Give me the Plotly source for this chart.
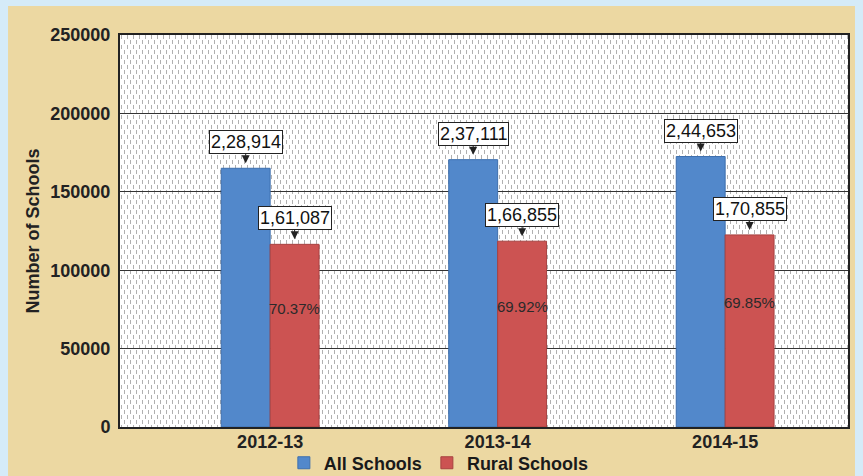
import base64
import plotly.graph_objects as go

# ---- data ----
years = ["2012-13", "2013-14", "2014-15"]
all_schools_bar = [165000, 170500, 172500]      # bar heights as drawn
rural_schools_bar = [116500, 118500, 122500]    # bar heights as drawn
all_labels = ["2,28,914", "2,37,111", "2,44,653"]
rural_labels = ["1,61,087", "1,66,855", "1,70,855"]
rural_share = ["70.37%", "69.92%", "69.85%"]
y_ticks = [0, 50000, 100000, 150000, 200000, 250000]

BLUE = "#5288cb"
RED = "#cc5352"
FONT = "Liberation Sans, Arial, sans-serif"
PARCH = "#ecd8a2"
SKY = "#d5ebf8"

fig = go.Figure()
fig.add_trace(go.Bar(x=years, y=all_schools_bar, name="All Schools",
                     marker=dict(color=BLUE, line=dict(color="#3d6fae", width=1))))
fig.add_trace(go.Bar(x=years, y=rural_schools_bar, name="Rural Schools",
                     marker=dict(color=RED, line=dict(color="#a84240", width=1))))

# dashed pattern background for plot area
svg = ('<svg xmlns="http://www.w3.org/2000/svg" width="728" height="392">'
       '<defs><pattern id="p" width="6" height="10" patternUnits="userSpaceOnUse">'
       '<rect width="6" height="10" fill="#ffffff"/>'
       '<rect x="1" y="0" width="1" height="4" fill="#b0b0b0"/>'
       '<rect x="4" y="5" width="1" height="4" fill="#b0b0b0"/>'
       '</pattern></defs><rect width="728" height="392" fill="url(#p)"/></svg>')
uri = "data:image/svg+xml;base64," + base64.b64encode(svg.encode()).decode()
fig.add_layout_image(dict(source=uri, xref="paper", yref="paper", x=0, y=1,
                          sizex=1, sizey=1, sizing="stretch", layer="below",
                          xanchor="left", yanchor="top"))

# light-blue outer strips around the parchment frame
for x0, x1, y0, y1 in ((-0.2, -0.1538, -0.2, 1.2), (-0.2, 1.1, 1.074, 1.2),
                       (1.0096, 1.1, -0.2, 1.2)):
    fig.add_shape(type="rect", xref="paper", yref="paper", x0=x0, x1=x1, y0=y0, y1=y1,
                  fillcolor=SKY, line=dict(width=0), layer="below")

bargap = 0.57
half = (1 - bargap) / 4
for i, yr in enumerate(years):
    for val, lab, off in ((all_schools_bar[i], all_labels[i], -half),
                          (rural_schools_bar[i], rural_labels[i], half)):
        fig.add_annotation(x=i + off, y=val, xref="x", yref="y", text=lab,
                           showarrow=True, ax=0, ay=-26, arrowhead=2,
                           arrowsize=1.6, arrowwidth=1, arrowcolor="#222",
                           standoff=5, bgcolor="white", bordercolor="#222",
                           borderwidth=1, borderpad=1,
                           font=dict(family=FONT, size=18, color="#111"))
    fig.add_annotation(x=i + half, y=rural_schools_bar[i] * 0.65, xref="x", yref="y",
                       text=rural_share[i], showarrow=False,
                       font=dict(family="Liberation Sans Narrow, Arial Narrow, " + FONT,
                                 size=15, color="#2a2a2a"))

fig.update_layout(
    width=863, height=476,
    margin=dict(l=120, r=15, t=35, b=49, autoexpand=False),
    paper_bgcolor=PARCH,
    plot_bgcolor="rgba(0,0,0,0)",
    barmode="group", bargap=bargap, bargroupgap=0,
    showlegend=True,
    legend=dict(orientation="h", x=0.438, xanchor="center", y=-0.092, yanchor="middle",
                font=dict(family=FONT, size=18, color="#1a1a1a", weight="bold"),
                bgcolor="rgba(0,0,0,0)", tracegroupgap=0),
    font=dict(family=FONT),
)
fig.update_xaxes(type="category", range=[-0.66, 2.54], showgrid=False, automargin=False,
                 showline=True, linecolor="#222", linewidth=2, mirror=True,
                 ticks="", ticklabelstandoff=-3,
                 tickfont=dict(family=FONT, size=18, color="#222", weight="bold"))
fig.update_yaxes(range=[0, 250000], tickvals=y_ticks, tickformat="d", automargin=False,
                 showgrid=True, gridcolor="#333", gridwidth=1,
                 showline=True, linecolor="#222", linewidth=2, mirror=True,
                 zeroline=False, ticks="", ticklabelstandoff=4,
                 tickfont=dict(family=FONT, size=18, color="#222", weight="bold"),
                 title=dict(text="Number of Schools", standoff=6,
                            font=dict(family=FONT, size=18, color="#222", weight="bold")))

fig.write_html("out.html", config={"displayModeBar": False},
               post_script="document.body.style.margin='0';document.body.style.padding='0';")
